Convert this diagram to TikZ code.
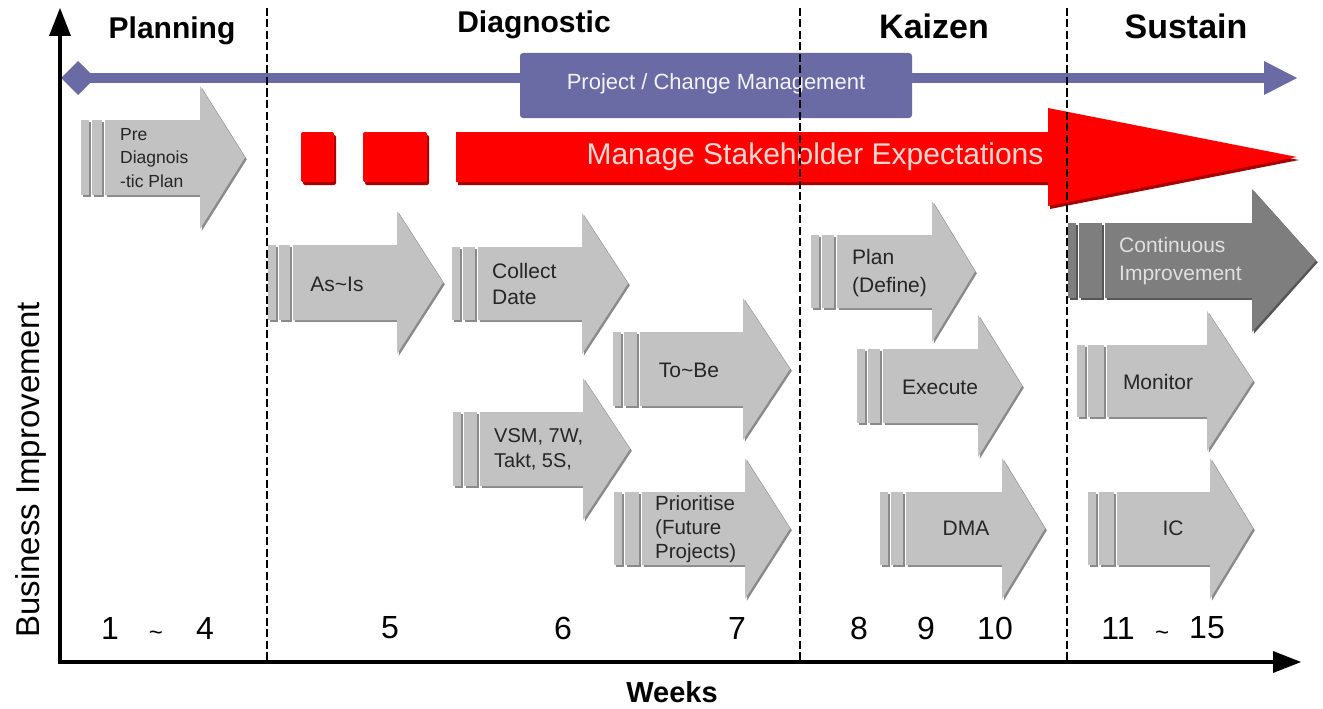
\documentclass[tikz,border=0pt]{standalone}
\usepackage{fontspec}
\setmainfont{Liberation Sans}
\definecolor{stagegrey}{HTML}{C2C2C2}
\definecolor{stageshade}{HTML}{8A8A8A}
\definecolor{ciGrey}{HTML}{7E7E7E}
\definecolor{ciShade}{HTML}{555555}
\definecolor{pmPurple}{HTML}{6A6AA4}
\definecolor{msRed}{HTML}{FF0000}
\definecolor{msShade}{HTML}{A80000}
\definecolor{msText}{HTML}{FFD8D0}

% Stage arrow: two stripes, a body and an arrow head, with a drop shadow.
% #1 fill, #2 shadow, #3 left x, #4 body x, #5 head x, #6 tip x, #7 top y, #8 bottom y
\newcommand{\stagearrow}[8]{%
  \foreach \dd/\cc in {1.8/#2,0/#1}{%
    \begin{scope}[shift={(\dd,\dd)}]
      \fill[\cc] (#3,#7) rectangle (#3+8,#8);
      \fill[\cc] (#3+11,#7) rectangle (#4-3,#8);
      \fill[\cc] (#4,#7) -- (#5,#7) -- (#5,#7-34) -- (#6,{(#7+#8)/2})
        -- (#5,#8+34) -- (#5,#8) -- (#4,#8) -- cycle;
    \end{scope}}%
}

\begin{document}
\begin{tikzpicture}[x=1pt,y=-1pt,
  phase/.style={font=\bfseries\fontsize{30}{32}\selectfont},
  bigphase/.style={font=\bfseries\fontsize{34}{36}\selectfont},
  week/.style={font=\fontsize{32}{34}\selectfont},
  stagetext/.style={font=\fontsize{21}{26}\selectfont, text=black!85, inner sep=0pt},
  stageleft/.style={stagetext, anchor=west, align=left},
  axis/.style={line width=4.5pt},
  phaseline/.style={line width=2.3pt, dash pattern=on 8pt off 3.5pt}]

\useasboundingbox (0,0) rectangle (1323,709);

% Project / change management line
\fill[pmPurple] (78,73) rectangle (1266,83);
\fill[pmPurple] (78,61) -- (95,78) -- (78,95) -- (61,78) -- cycle;
\fill[pmPurple] (1264,61) -- (1297,78) -- (1264,95) -- cycle;
\fill[pmPurple, rounded corners=3pt] (520,53) rectangle (912,118);
\node[font=\fontsize{22}{24}\selectfont, text=white!92!pmPurple] (pm) at (716,84) {Project / Change Management};

% Manage stakeholder expectations
\begin{scope}[shift={(2,3)}]
  \fill[msShade, rounded corners=2pt] (301,132) rectangle (334,182);
  \fill[msShade, rounded corners=2pt] (363,132) rectangle (427,182);
  \fill[msShade] (456,132) -- (1048,132) -- (1048,108) -- (1297,157)
     -- (1048,206) -- (1048,182) -- (456,182) -- cycle;
\end{scope}
\fill[msRed, rounded corners=2pt] (301,132) rectangle (334,182);
\fill[msRed, rounded corners=2pt] (363,132) rectangle (427,182);
\fill[msRed] (456,132) -- (1048,132) -- (1048,108) -- (1297,157)
   -- (1048,206) -- (1048,182) -- (456,182) -- cycle;
\node[font=\fontsize{30}{32}\selectfont, text=msText] (ms) at (815,157) {Manage Stakeholder Expectations};

% Stage arrows
\stagearrow{stagegrey}{stageshade}{81}{105}{200}{245}{120}{195}
\stagearrow{stagegrey}{stageshade}{268}{293}{397}{443}{245}{320}
\stagearrow{stagegrey}{stageshade}{452}{478}{582}{628}{247}{320}
\stagearrow{stagegrey}{stageshade}{613}{640}{743}{790}{332}{406}
\stagearrow{stagegrey}{stageshade}{453}{480}{583}{630}{412}{486}
\stagearrow{stagegrey}{stageshade}{614}{642}{745}{790}{492}{565}
\stagearrow{stagegrey}{stageshade}{811}{837}{932}{975}{235}{308}
\stagearrow{stagegrey}{stageshade}{857}{883}{978}{1022}{349}{423}
\stagearrow{stagegrey}{stageshade}{880}{906}{1002}{1045}{492}{565}
\stagearrow{ciGrey}{ciShade}{1068}{1105}{1252}{1316}{223}{298}
\stagearrow{stagegrey}{stageshade}{1077}{1107}{1207}{1253}{345}{417}
\stagearrow{stagegrey}{stageshade}{1088}{1117}{1210}{1253}{492}{565}

\node[stageleft, font=\fontsize{17.5}{23.5}\selectfont] (pre) at (120,158) {Pre\\Diagnois\\-tic Plan};
\node[stagetext] (asis) at (337,284) {As\textasciitilde Is};
\node[stageleft] (collect) at (492,284) {Collect\\Date};
\node[stagetext] (tobe) at (689,370) {To\textasciitilde Be};
\node[stageleft, font=\fontsize{20}{25}\selectfont] (vsm) at (494,449) {VSM, 7W,\\Takt, 5S,};
\node[stageleft, font=\fontsize{20.5}{24}\selectfont] (prio) at (655,529) {Prioritise\\(Future\\Projects)};
\node[stageleft, font=\fontsize{21}{28}\selectfont] (plan) at (852,273) {Plan\\(Define)};
\node[stagetext] (exec) at (940,387) {Execute};
\node[stagetext] (dma) at (966,528) {DMA};
\node[stageleft, font=\fontsize{21}{28}\selectfont, text=white!88!black] (ci) at (1119,261) {Continuous\\Improvement};
\node[stagetext] (mon) at (1158,382) {Monitor};
\node[stagetext] (ic) at (1173,528) {IC};

% Phase separators
\foreach \px/\nm in {267/sepA,800/sepB,1067/sepC}{
  \coordinate (\nm top) at (\px,8);
  \coordinate (\nm bot) at (\px,660);
  \draw[phaseline] (\nm top) -- (\nm bot);
}

% Axes
\coordinate (origin) at (60,662);
\coordinate (ytip) at (60,8);
\coordinate (xtip) at (1301,662);
\draw[axis] (origin) -- (60,34);
\fill (ytip) -- (71,36) -- (49,36) -- cycle;
\draw[axis] (57.75,662) -- (1276,662);
\fill (xtip) -- (1273,651) -- (1273,673) -- cycle;

% Phase titles
\node[phase] (planning) at (172,31) {Planning};
\node[phase] (diag) at (534,25) {Diagnostic};
\node[bigphase] (kaizen) at (934,26) {Kaizen};
\node[bigphase] (sustain) at (1186,26) {Sustain};

% Axis labels
\node[font=\bfseries\fontsize{29}{30}\selectfont] (weeks) at (672,692) {Weeks};
\node[font=\fontsize{33}{34}\selectfont, rotate=90] (bi) at (31,470) {Business Improvement};

% Week numbers
\node[week] (w1) at (110,628) {1};
\node[week, font=\fontsize{24}{26}\selectfont] (wt1) at (156,636) {\textasciitilde};
\node[week] (w4) at (205,628) {4};
\node[week] (w5) at (390,628) {5};
\node[week] (w6) at (563,628) {6};
\node[week] (w7) at (737,628) {7};
\node[week] (w8) at (859,628) {8};
\node[week] (w9) at (926,628) {9};
\node[week] (w10) at (995,628) {10};
\node[week] (w11) at (1118,628) {11};
\node[week, font=\fontsize{24}{26}\selectfont] (wt2) at (1162,636) {\textasciitilde};
\node[week] (w15) at (1207,628) {15};
\end{tikzpicture}
\end{document}
